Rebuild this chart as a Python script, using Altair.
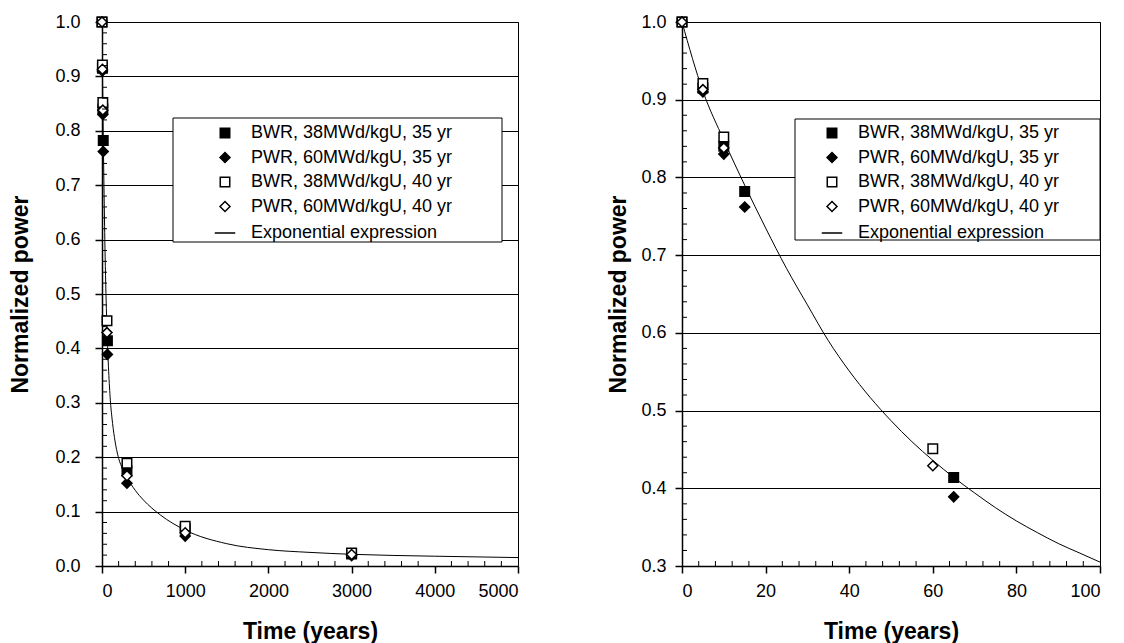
import altair as alt
import pandas as pd

# ---- data -------------------------------------------------------------
series_names = [
    "BWR, 38MWd/kgU, 35 yr",
    "PWR, 60MWd/kgU, 35 yr",
    "BWR, 38MWd/kgU, 40 yr",
    "PWR, 60MWd/kgU, 40 yr",
]
curve_name = "Exponential expression"

# cooling times (years) for the 35-yr and 40-yr cases
t_35 = [0, 5, 10, 15, 65, 300, 1000, 3000]
t_40 = [0, 5, 10, 60, 300, 1000, 3000]

# normalized decay power
bwr_35 = [1.0, 0.915, 0.840, 0.782, 0.414, 0.175, 0.068, 0.022]
pwr_35 = [1.0, 0.910, 0.830, 0.762, 0.389, 0.152, 0.055, 0.019]
bwr_40 = [1.0, 0.921, 0.852, 0.451, 0.189, 0.073, 0.024]
pwr_40 = [1.0, 0.913, 0.838, 0.429, 0.166, 0.061, 0.021]

# exponential expression
curve_t = [0, 5, 10, 15, 20, 25, 30, 35, 40, 45, 50, 55, 60, 65, 70, 75, 80,
           85, 90, 95, 100, 120, 150, 200, 250, 300, 400, 500, 700, 1000,
           1500, 2000, 2500, 3000, 4000, 5000]
curve_p = [1.0, 0.911, 0.848, 0.790, 0.735, 0.683, 0.636, 0.590, 0.551,
           0.517, 0.487, 0.460, 0.436, 0.414, 0.394, 0.375, 0.358, 0.343,
           0.329, 0.317, 0.305, 0.272, 0.236, 0.198, 0.178, 0.163, 0.139,
           0.121, 0.094, 0.066, 0.041, 0.030, 0.025, 0.0215, 0.018, 0.0155]

# axis ticks
left_x_ticks = [0, 1000, 2000, 3000, 4000, 5000]
left_y_ticks = [0.0, 0.1, 0.2, 0.3, 0.4, 0.5, 0.6, 0.7, 0.8, 0.9, 1.0]
right_x_ticks = [0, 20, 40, 60, 80, 100]
right_y_ticks = [0.3, 0.4, 0.5, 0.6, 0.7, 0.8, 0.9, 1.0]

left_x_minor = [v for v in range(200, 5000, 200) if v % 1000]
left_y_minor = [round(i * 0.02, 2) for i in range(1, 50) if i % 5]
right_x_minor = [v for v in range(4, 100, 4) if v % 20]
right_y_minor = [round(0.3 + i * 0.02, 2) for i in range(1, 35) if i % 5]

# ---- tables -----------------------------------------------------------
rows = []
for name, ts, ps in [
    (series_names[0], t_35, bwr_35),
    (series_names[1], t_35, pwr_35),
    (series_names[2], t_40, bwr_40),
    (series_names[3], t_40, pwr_40),
]:
    for t, p in zip(ts, ps):
        rows.append({"t": t, "p": p, "series": name})
points = pd.DataFrame(rows)
curve = pd.DataFrame({"t": curve_t, "p": curve_p})

legend_names = series_names + [curve_name]
shape_range = ["square", "diamond", "square", "diamond", "stroke"]
fill_range = ["black", "black", "white", "white", "white"]
stroke_range = ["black"] * 5
size_range = [90, 100, 90, 100, 420]

W_LEFT, W_RIGHT, H = 416, 418, 544
FONT = "Liberation Sans"


def panel(width, x_dom, y_dom, x_ticks, y_ticks, x_minor, y_minor,
          legend_x, box, y_label_pad, y_title_pad):
    x_scale = alt.Scale(domain=x_dom, nice=False, zero=False)
    y_scale = alt.Scale(domain=y_dom, nice=False, zero=False)
    x_axis = alt.Axis(values=x_ticks, title="Time (years)", grid=False,
                      format="d", labelPadding=9, titlePadding=20)
    y_axis = alt.Axis(values=y_ticks, title="Normalized power", grid=True,
                      format=".1f", labelPadding=y_label_pad,
                      titlePadding=y_title_pad)
    x_enc = alt.X("t:Q", scale=x_scale, axis=x_axis)
    y_enc = alt.Y("p:Q", scale=y_scale, axis=y_axis)

    legend = alt.Legend(
        orient="none", legendX=legend_x, legendY=102, title=None,
        labelFont=FONT, labelFontSize=18, labelColor="black", labelLimit=500,
        labelOffset=15, rowPadding=6.5, padding=0,
        symbolStrokeWidth=1.5, symbolStrokeColor="black",
    )

    # white legend panel with a thin border
    frame = alt.Chart(pd.DataFrame({"k": [0]})).mark_rect(
        fill="white", stroke="black", strokeWidth=1
    ).encode(
        x=alt.value(box[0]), x2=alt.value(box[1]),
        y=alt.value(box[2]), y2=alt.value(box[3]),
    )

    # minor ticks pointing into the plot area
    x_min = alt.Chart(pd.DataFrame({"t": x_minor})).mark_rule(
        color="black", strokeWidth=1
    ).encode(x=alt.X("t:Q", scale=x_scale), y=alt.value(H), y2=alt.value(H - 5))

    y_min = alt.Chart(pd.DataFrame({"p": y_minor})).mark_rule(
        color="black", strokeWidth=1
    ).encode(y=alt.Y("p:Q", scale=y_scale), x=alt.value(0), x2=alt.value(5))

    line = alt.Chart(curve[curve["t"] <= x_dom[1]]).mark_line(
        color="black", strokeWidth=1, interpolate="monotone", clip=True
    ).encode(x=x_enc, y=y_enc)

    dots = alt.Chart(points[points["t"] <= x_dom[1]]).mark_point(
        opacity=1, strokeWidth=1.5, filled=False
    ).encode(
        x=x_enc, y=y_enc,
        shape=alt.Shape("series:N", scale=alt.Scale(domain=legend_names, range=shape_range), legend=legend),
        fill=alt.Fill("series:N", scale=alt.Scale(domain=legend_names, range=fill_range), legend=legend),
        stroke=alt.Stroke("series:N", scale=alt.Scale(domain=legend_names, range=stroke_range), legend=legend),
        size=alt.Size("series:N", scale=alt.Scale(type="ordinal", domain=legend_names, range=size_range), legend=legend),
    )

    return alt.layer(frame, line, dots, x_min, y_min).properties(width=width, height=H)


left = panel(W_LEFT, [0, 5000], [0.0, 1.0], left_x_ticks, left_y_ticks,
             left_x_minor, left_y_minor, legend_x=112,
             box=(71, 400, 96, 220), y_label_pad=15, y_title_pad=22)
right = panel(W_RIGHT, [0, 100], [0.3, 1.0], right_x_ticks, right_y_ticks,
              right_x_minor, right_y_minor, legend_x=139,
              box=(113, 418, 97, 218), y_label_pad=9, y_title_pad=10)

chart = alt.hconcat(left, right, spacing=164, bounds="flush").resolve_scale(
    x="independent", y="independent", shape="independent",
    fill="independent", stroke="independent", size="independent",
).resolve_legend(
    shape="independent", fill="independent", stroke="independent",
    size="independent",
).properties(
    padding={"left": 9, "top": 12, "right": 5, "bottom": 0},
    background="white",
).configure_view(
    stroke="black", strokeWidth=1
).configure_axis(
    domainColor="black", domainWidth=1.5,
    tickColor="black", tickWidth=1.5, tickSize=7,
    gridColor="black", gridWidth=1,
    labelFont=FONT, labelFontSize=18, labelColor="black",
    titleFont=FONT, titleFontSize=23, titleFontWeight="bold", titleColor="black",
)

chart.save("out.html", embed_options={"renderer": "svg", "actions": False})
